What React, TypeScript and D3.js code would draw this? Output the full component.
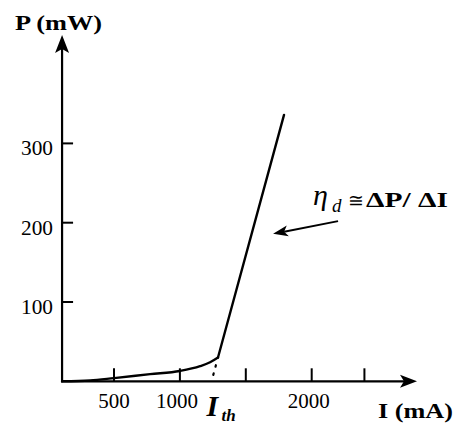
import React from "react";
import * as d3 from "d3";

// Sub-threshold (spontaneous emission) region: current (mA), power (mW)
const subCurrent = [106, 319, 500, 774, 1000, 1153, 1229, 1289];
const subPower = [0, 1, 4, 9, 13, 19, 24, 30];
// Lasing region (straight line)
const lasCurrent = [1289, 1790];
const lasPower = [30, 336];
// Threshold current
const thresholdCurrent = 1240;
// Axis ticks
const xTicks = [500, 1000, 1500, 2000, 2400];
const xTickLabels = ["500", "1000", "", "2000", ""];
const yTicks = [100, 200, 300];
const yTickLabels = ["100", "200", "300"];
// Annotation arrow (data coords): tail -> tip
const annoTail = [2200, 202];
const annoTip = [1707, 186];

const W = 465;
const H = 425;
const serif = "'Liberation Serif', 'Times New Roman', Times, serif";

export default function App() {
  const x = d3.scaleLinear().domain([0, 500]).range([48.1, 114]);
  const y = d3.scaleLinear().domain([0, 100]).range([381.3, 302]);

  const x0 = x(106);
  const y0 = y(0);
  const yTop = 35;
  const xEnd = 417;

  const subPath = d3
    .line<[number, number]>()
    .x((d) => x(d[0]))
    .y((d) => y(d[1]))
    .curve(d3.curveMonotoneX)(
    subCurrent.map((c, i) => [c, subPower[i]] as [number, number])
  );
  const lasPath = d3
    .line<[number, number]>()
    .x((d) => x(d[0]))
    .y((d) => y(d[1]))(lasCurrent.map((c, i) => [c, lasPower[i]] as [number, number]));

  const kneeX = x(lasCurrent[0]);
  const kneeY = y(lasPower[0]);
  const thX = x(thresholdCurrent);

  const tipX = x(annoTip[0]);
  const tipY = y(annoTip[1]);
  const tailX = x(annoTail[0]);
  const tailY = y(annoTail[1]);
  const ang = Math.atan2(tipY - tailY, tipX - tailX);
  const aL = 15;
  const aW = 5.5;
  const bx = tipX - aL * Math.cos(ang);
  const by = tipY - aL * Math.sin(ang);
  const nx = -Math.sin(ang);
  const ny = Math.cos(ang);
  const notchX = tipX - aL * 0.75 * Math.cos(ang);
  const notchY = tipY - aL * 0.75 * Math.sin(ang);

  return (
    <svg
      width={W}
      height={H}
      style={{ position: "absolute", left: 0, top: 0, background: "#fff" }}
      fontFamily={serif}
    >
      {/* Y axis */}
      <line x1={x0} y1={y0 + 1} x2={x0} y2={yTop + 10} stroke="#000" strokeWidth={2.2} />
      <path
        d={`M${x0},${yTop} L${x0 - 7},${yTop + 18} L${x0},${yTop + 14} L${x0 + 7},${yTop + 18} Z`}
        fill="#000"
      />
      {/* X axis */}
      <line x1={x0 - 1} y1={y0} x2={xEnd - 10} y2={y0} stroke="#000" strokeWidth={2.2} />
      <path
        d={`M${xEnd},${y0} L${xEnd - 17},${y0 - 6.5} L${xEnd - 13},${y0} L${xEnd - 17},${y0 + 6.5} Z`}
        fill="#000"
      />

      {/* Y ticks */}
      {yTicks.map((t, i) => (
        <g key={"yt" + t}>
          <line x1={x0} x2={x0 + 11} y1={y(t)} y2={y(t)} stroke="#000" strokeWidth={2} />
          <text
            x={53}
            y={y(t) + 12}
            fontSize={21}
            textAnchor="end"
            fill="#000"
            textLength={32}
            lengthAdjust="spacingAndGlyphs"
          >
            {yTickLabels[i]}
          </text>
        </g>
      ))}

      {/* X ticks */}
      {xTicks.map((t, i) => (
        <g key={"xt" + t}>
          <line x1={x(t)} x2={x(t)} y1={y0} y2={y0 - 13} stroke="#000" strokeWidth={2} />
          {xTickLabels[i] && (
            <text
              x={x(t) - (xTickLabels[i].length > 3 ? 3 : 0)}
              y={408}
              fontSize={21}
              textAnchor="middle"
              fill="#000"
              textLength={xTickLabels[i].length * 10.5}
              lengthAdjust="spacingAndGlyphs"
            >
              {xTickLabels[i]}
            </text>
          )}
        </g>
      ))}

      {/* Curve */}
      <path d={subPath || ""} fill="none" stroke="#000" strokeWidth={2.4} strokeLinecap="round" />
      <path d={lasPath || ""} fill="none" stroke="#000" strokeWidth={2.4} strokeLinecap="round" />
      {/* Dotted extrapolation to threshold */}
      <line
        x1={kneeX}
        y1={kneeY}
        x2={thX}
        y2={y0}
        stroke="#000"
        strokeWidth={2.2}
        strokeDasharray="0 8 1.5 7 1.5 100"
        strokeLinecap="round"
      />

      {/* Annotation arrow */}
      <line x1={tailX} y1={tailY} x2={notchX} y2={notchY} stroke="#000" strokeWidth={2} />
      <path
        d={`M${tipX},${tipY} L${bx + nx * aW},${by + ny * aW} L${notchX},${notchY} L${bx - nx * aW},${by - ny * aW} Z`}
        fill="#000"
      />

      {/* Annotation text */}
      <text x={313} y={205} fontSize={30} fontStyle="italic" fill="#000">
        η
      </text>
      <text x={332} y={212} fontSize={19} fontStyle="italic" fill="#000">
        d
      </text>
      <text x={348} y={207} fontSize={19} fill="#000" fontFamily="'DejaVu Serif', serif">
        ≅
      </text>
      <text
        x={366}
        y={207}
        fontSize={22}
        fontWeight="bold"
        fill="#000"
        textLength={82}
        lengthAdjust="spacingAndGlyphs"
      >
        ΔP/ ΔI
      </text>

      {/* Axis titles */}
      <text
        x={15}
        y={30}
        fontSize={21}
        fontWeight="bold"
        fill="#000"
        textLength={87}
        lengthAdjust="spacingAndGlyphs"
      >
        P (mW)
      </text>
      <text
        x={378}
        y={418}
        fontSize={22}
        fontWeight="bold"
        fill="#000"
        textLength={75}
        lengthAdjust="spacingAndGlyphs"
      >
        I (mA)
      </text>

      {/* I_th label */}
      <text x={thX - 5} y={416} fontSize={30} fontWeight="bold" fontStyle="italic" fill="#000">
        I
      </text>
      <text x={thX + 10} y={421} fontSize={17} fontWeight="bold" fontStyle="italic" fill="#000">
        th
      </text>
    </svg>
  );
}
